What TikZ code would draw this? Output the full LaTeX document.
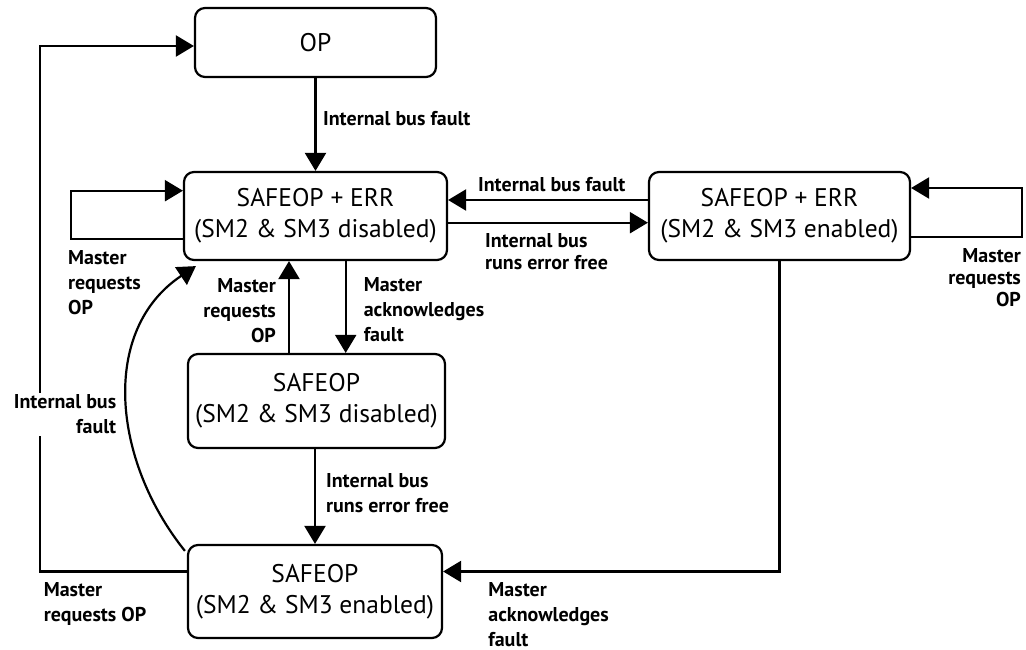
\documentclass[tikz,border=0pt]{standalone}
\usepackage{fontspec}
\setmainfont{PT Sans}
\usetikzlibrary{arrows.meta,calc}
\begin{document}
\begin{tikzpicture}[x=1pt,y=-1pt,line width=2.2pt,
  state/.style={draw,rounded corners=10pt,inner sep=0pt,align=center,font=\fontsize{25.5}{31}\selectfont},
  arr/.style={-{Triangle[length=18pt,width=21pt]}},
  lbl/.style={inner sep=0pt,font=\fontsize{20}{25}\selectfont\bfseries}]
\useasboundingbox (0,0) rectangle (1026,650);
% states
\node[state,minimum width=241pt,minimum height=69pt] (OP) at (315.5,42.5) {OP};
\node[state,minimum width=263pt,minimum height=88pt] (A) at (315.5,216) {SAFEOP + ERR\\(SM2 \& SM3 disabled)};
\node[state,minimum width=261pt,minimum height=88pt] (B) at (779.5,216) {SAFEOP + ERR\\(SM2 \& SM3 enabled)};
\node[state,minimum width=257pt,minimum height=94pt] (C) at (316.5,401) {SAFEOP\\(SM2 \& SM3 disabled)};
\node[state,minimum width=254pt,minimum height=93pt] (D) at (315,591.5) {SAFEOP\\(SM2 \& SM3 enabled)};
% bend coordinates
\coordinate (dl) at (40,571.5);
\coordinate (tl) at (40,46);
\coordinate (a1) at (70.7,239);
\coordinate (a2) at (70.7,190.7);
\coordinate (ab1) at (550,200);
\coordinate (ab2) at (550,222.7);
\coordinate (b1) at (1022,237);
\coordinate (b2) at (1022,188);
\coordinate (ca) at (289,300);
\coordinate (ac) at (345.7,300);
\coordinate (cd) at (315,500);
\coordinate (bd) at (779.5,571.5);
% connectors
\draw[arr] (OP) -- (A);
\draw[arr] (dl -| D.west) -- (dl) -- (tl) -- (tl -| OP.west);
\draw[arr] (a1 -| A.west) -- (a1) -- (a2) -- (a2 -| A.west);
\draw[arr] (ab1 -| B.west) -- (ab1 -| A.east);
\draw[arr] (ab2 -| A.east) -- (ab2 -| B.west);
\draw[arr] (b1 -| B.east) -- (b1) -- (b2) -- (b2 -| B.east);
\draw[arr] (ca |- C.north) -- (ca |- A.south);
\draw[arr] (ac |- A.south) -- (ac |- C.north);
\draw[arr] (cd |- C.south) -- (cd |- D.north);
\draw[arr] (B.south) -- (bd) -- (bd -| D.east);
\draw[arr] ($(D.north west)+(-2,7)$) .. controls (112,460) and (100,330) .. ($(A.south west)+(13,5)$);
% labels
\node[lbl,anchor=north west] (l1) at (322,110) {Internal bus fault};
\node[lbl,anchor=north west] (l2) at (477,176) {Internal bus fault};
\node[lbl,anchor=north west,align=left,font=\fontsize{20}{22}\selectfont\bfseries] (l3) at (484,232.7) {Internal bus\\runs error free};
\node[lbl,anchor=north west,align=left] (l4) at (67,249) {Master\\requests\\OP};
\node[lbl,anchor=north east,align=right,font=\fontsize{20}{22}\selectfont\bfseries] (l5) at (1022,247.7) {Master\\requests\\OP};
\node[lbl,anchor=north east,align=right] (l6) at (277,277) {Master\\requests\\OP};
\node[lbl,anchor=north west,align=left] (l7) at (362.7,276) {Master\\acknowledges\\fault};
\node[lbl,anchor=north east,align=right,fill=white,inner sep=2pt] (l8) at (119.3,391.7) {Internal bus\\fault};
\node[lbl,anchor=north west,align=left] (l9) at (325,472) {Internal bus\\runs error free};
\node[lbl,anchor=north west,align=left] (l10) at (42.7,581) {Master\\requests OP};
\node[lbl,anchor=north west,align=left] (l11) at (487.3,581) {Master\\acknowledges\\fault};
\end{tikzpicture}
\end{document}
